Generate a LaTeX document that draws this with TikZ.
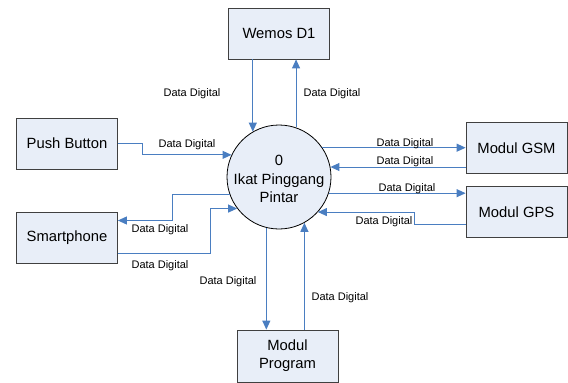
\documentclass[tikz,border=0pt]{standalone}
\usepackage{fontspec}
\setmainfont{Liberation Sans}
\usepackage{xcolor}
\usetikzlibrary{arrows.meta,positioning}
\definecolor{boxfill}{RGB}{232,238,248}
\definecolor{flowblue}{RGB}{74,126,193}
\tikzset{
  entity/.style={draw=black!75, fill=boxfill, line width=0.8pt,
    minimum width=101pt, minimum height=51pt, inner sep=2pt, align=center,
    font=\fontsize{14.8}{18}\selectfont},
  process/.style={circle, draw=black, fill=boxfill, line width=0.8pt,
    minimum size=104pt, inner sep=0pt, align=center,
    font=\fontsize{14.8}{18.5}\selectfont},
  flow/.style={draw=flowblue, line width=1pt, -{Triangle[length=9pt,width=8pt]}},
  lbl/.style={font=\fontsize{11}{13}\selectfont, inner sep=1pt}
}
\begin{document}
\begin{tikzpicture}[x=1pt,y=-1pt]
\useasboundingbox (0,0) rectangle (568,383);
% entities and process
\node[process] (circ) at (279,177) {};
\node[align=center, font=\fontsize{14.8}{18.5}\selectfont] (circtxt) at (279,179) {0\\Ikat Pinggang\\Pintar};
\node[entity] (wemos) at (279,33.5) {Wemos D1};
\node[entity] (pb) at (67,143.5) {Push Button};
\node[entity] (sp) at (67,237.5) {Smartphone};
\node[entity] (gsm) at (516.5,148) {Modul GSM};
\node[entity] (gps) at (516.5,212) {Modul GPS};
\node[entity, minimum height=52pt] (prog) at (287.5,356) {Modul\\Program};
% data flows
\draw[flow] (circ.120 |- wemos.south) -- (circ.120);
\draw[flow] (circ.71) -- (circ.71 |- wemos.south);
\draw[flow] (pb.east) -- ++(25,0) |- (circ.155);
\draw[flow] (circ.200) -| ([xshift=55pt,yshift=17pt]sp.east) -- ([yshift=17pt]sp.east);
\draw[flow] ([yshift=-16pt]sp.east) -- ++(93,0) |- (circ.217);
\draw[flow] (circ.34) -- (circ.34 -| gsm.west);
\draw[flow] (circ.11 -| gsm.west) -- (circ.11);
\draw[flow] (circ.-18) -- (circ.-18 -| gps.west);
\draw[flow] ([yshift=-12pt]gps.west) -- ++(-51,0) |- (circ.-42);
\draw[flow] (circ.256) -- (circ.256 |- prog.north);
\draw[flow] (circ.299 |- prog.north) -- (circ.299);
% labels
\node[lbl] (dd1) at (192,93.5) {Data Digital};
\node[lbl] (dd2) at (332,93.5) {Data Digital};
\node[lbl] (dd3) at (187,145) {Data Digital};
\node[lbl] (dd4) at (160,229.5) {Data Digital};
\node[lbl] (dd5) at (160,265.5) {Data Digital};
\node[lbl] (dd6) at (405,144) {Data Digital};
\node[lbl] (dd7) at (405,162) {Data Digital};
\node[lbl] (dd8) at (407,189) {Data Digital};
\node[lbl] (dd9) at (384,222) {Data Digital};
\node[lbl] (dd10) at (228,281.5) {Data Digital};
\node[lbl] (dd11) at (340,297.5) {Data Digital};
\end{tikzpicture}
\end{document}
